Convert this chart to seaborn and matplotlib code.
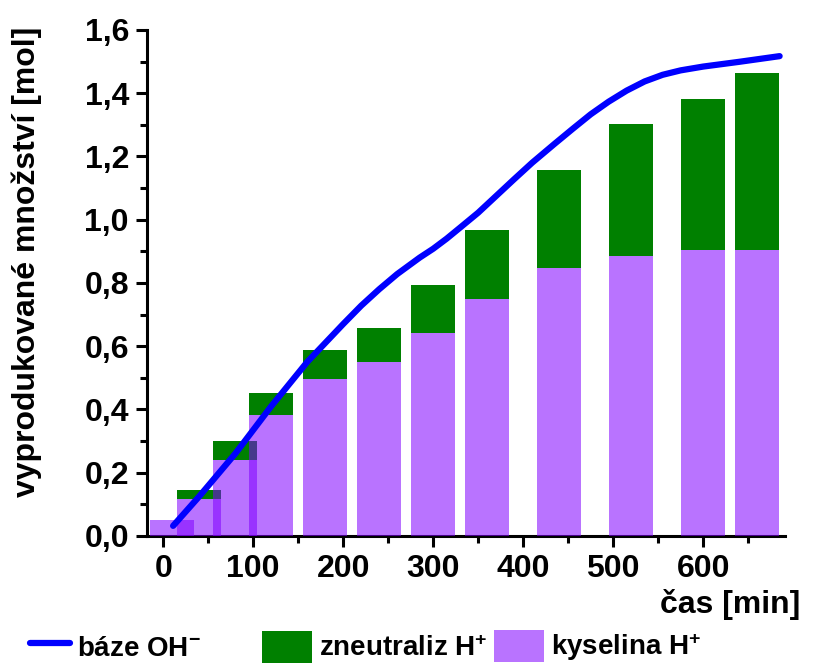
import matplotlib
matplotlib.use("Agg")
import matplotlib.pyplot as plt
import seaborn as sns
import numpy as np
from matplotlib.lines import Line2D
from matplotlib.patches import Patch

# ---- data ----
bar_time = [10, 40, 80, 120, 180, 240, 300, 360, 440, 520, 600, 660]
acid_h = [0.050, 0.116, 0.241, 0.383, 0.496, 0.550, 0.642, 0.748, 0.846, 0.886, 0.903, 0.905]
neutral_h = [0.000, 0.030, 0.058, 0.069, 0.093, 0.106, 0.153, 0.218, 0.311, 0.418, 0.479, 0.559]

base_time = [11, 40, 80, 120, 160, 200, 220, 240, 260, 285, 300, 315, 330, 350, 370, 390,
             410, 435, 455, 475, 495, 515, 535, 555, 575, 600, 640, 685]
base_oh = [0.032, 0.125, 0.26, 0.41, 0.55, 0.67, 0.728, 0.780, 0.828, 0.880, 0.908, 0.940,
           0.975, 1.022, 1.075, 1.128, 1.180, 1.240, 1.287, 1.333, 1.373, 1.408, 1.437,
           1.458, 1.472, 1.484, 1.499, 1.517]

x_ticks = [0, 100, 200, 300, 400, 500, 600]
y_ticks = [0.0, 0.2, 0.4, 0.6, 0.8, 1.0, 1.2, 1.4, 1.6]
y_tick_labels = ["0,0", "0,2", "0,4", "0,6", "0,8", "1,0", "1,2", "1,4", "1,6"]

series_labels = ["báze OH$^{-}$", "zneutraliz H$^{+}$", "kyselina H$^{+}$"]

# ---- style ----
sns.set_style("ticks")
plt.rcParams["font.family"] = ["Liberation Sans", "DejaVu Sans"]
plt.rcParams["font.weight"] = "bold"
plt.rcParams["mathtext.fontset"] = "custom"
plt.rcParams["mathtext.rm"] = "Liberation Sans:bold"
plt.rcParams["mathtext.default"] = "rm"
for k in ["text.color", "axes.labelcolor", "xtick.color", "ytick.color", "axes.edgecolor"]:
    plt.rcParams[k] = "black"

GREEN = "#008000"
PURPLE = "#8000ff"
BLUE = "#0000ff"

fig = plt.figure(figsize=(8.14, 6.64), dpi=100)
ax = fig.add_axes([0.1806, 0.1928, 0.9644 - 0.1806, 0.955 - 0.1928])

bar_w = 49 / 30  # relative to smallest spacing (30 min)

sns.barplot(x=bar_time, y=neutral_h, native_scale=True, width=bar_w, color=GREEN,
            saturation=1, errorbar=None, bottom=acid_h, linewidth=0, ax=ax, zorder=2)
sns.barplot(x=bar_time, y=acid_h, native_scale=True, width=bar_w, color=PURPLE,
            saturation=1, errorbar=None, alpha=0.55, linewidth=0, ax=ax, zorder=3)
sns.lineplot(x=base_time, y=base_oh, color=BLUE, linewidth=4.5, ax=ax, zorder=4,
             solid_capstyle="round", solid_joinstyle="round")

ax.set_xlim(-18, 691)
ax.set_ylim(0, 1.6)
ax.set_xticks(x_ticks)
ax.set_xticklabels([str(t) for t in x_ticks])
ax.set_xticks([50, 150, 250, 350, 450, 550, 650], minor=True)
ax.set_yticks(y_ticks)
ax.set_yticklabels(y_tick_labels)
ax.set_yticks(np.arange(0.1, 1.6, 0.2), minor=True)
ax.set_xlabel("")
ax.set_ylabel("")

for s in ["top", "right"]:
    ax.spines[s].set_visible(False)
for s in ["left", "bottom"]:
    ax.spines[s].set_linewidth(2.2)
    ax.spines[s].set_color("black")

ax.tick_params(which="major", direction="out", length=8, width=2.2, labelsize=23, pad=5,
               colors="black")
ax.tick_params(which="minor", direction="out", length=5, width=2.2, colors="black")
for lab in ax.get_xticklabels() + ax.get_yticklabels():
    lab.set_fontweight("bold")

fig.text(0.033, 0.605, "vyprodukované množství [mol]", rotation=90, ha="center", va="center",
         fontsize=23, fontweight="bold", color="black")
fig.text(0.983, 0.089, "čas [min]", ha="right", va="center", fontsize=23, fontweight="bold",
         color="black")

# ---- legend: three single-entry legends placed along the bottom ----
handles = [Line2D([0], [0], color=BLUE, lw=4.5, solid_capstyle="round"),
           Patch(facecolor=GREEN, edgecolor="none"),
           Patch(facecolor=PURPLE, alpha=0.55, edgecolor="none")]
leg_x = [30 / 814, 262 / 814, 494 / 814]
leg_len = [1.45, 1.8, 1.8]
for h, lab, lx, hl in zip(handles, series_labels, leg_x, leg_len):
    lg = fig.legend([h], [lab], loc="center left", bbox_to_anchor=(lx, 0.026),
                    frameon=False, prop={"size": 20, "weight": "bold"}, handlelength=hl,
                    handleheight=1.4, handletextpad=0.25, borderpad=0, borderaxespad=0)
    for t in lg.get_texts():
        t.set_color("black")

fig.savefig("out.png", dpi=100)
